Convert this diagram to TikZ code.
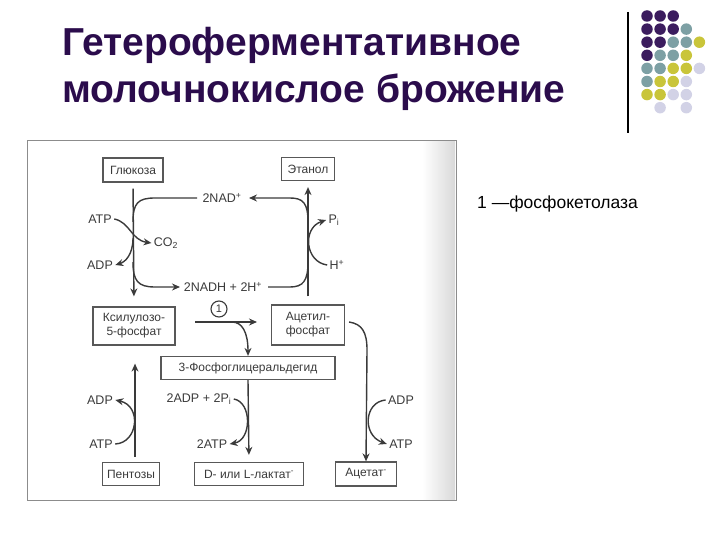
\documentclass[tikz,border=0pt]{standalone}
\usepackage{fontspec}
\setmainfont{Liberation Sans}
\usetikzlibrary{arrows.meta}
\definecolor{titlec}{HTML}{2B0C4C}
\definecolor{dpurple}{HTML}{3B1C5E}
\definecolor{dteal}{HTML}{7DA0A4}
\definecolor{dyellow}{HTML}{C9C53A}
\definecolor{dlav}{HTML}{D2D2E6}
\definecolor{ink}{HTML}{3A3A3A}
\tikzset{
  box/.style={draw=ink!85, line width=1.2pt, inner sep=1pt, text=ink, font=\fontsize{12}{14}\selectfont, align=center},
  lbl/.style={text=ink, font=\fontsize{12.5}{14}\selectfont, inner sep=0.5pt, outer sep=2pt},
  conn/.style={draw=ink, line width=1.4pt},
  arr/.style={conn, -{Stealth[length=8pt,width=7pt]}},
  dot/.style={circle, minimum size=11.5pt, inner sep=0pt, draw=none}
}
\begin{document}
\begin{tikzpicture}[x=1pt,y=-1pt]
\useasboundingbox (0,0) rectangle (720,540);
% title
\node[anchor=base west, inner sep=0pt, text=titlec, font=\fontsize{39}{44}\bfseries\selectfont] (t1) at (62,56) {Гетероферментативное};
\node[anchor=base west, inner sep=0pt, text=titlec, font=\fontsize{39}{44}\bfseries\selectfont] (t2) at (62,103) {молочнокислое брожение};
% decoration
\draw[line width=1.1pt] (628,12) -- (628,133);
\foreach \c/\x/\y in {dpurple/0/0,dpurple/1/0,dpurple/2/0,
  dpurple/0/1,dpurple/1/1,dpurple/2/1,dteal/3/1,
  dpurple/0/2,dpurple/1/2,dteal/2/2,dteal/3/2,dyellow/4/2,
  dpurple/0/3,dteal/1/3,dteal/2/3,dyellow/3/3,
  dteal/0/4,dteal/1/4,dyellow/2/4,dyellow/3/4,dlav/4/4,
  dteal/0/5,dyellow/1/5,dyellow/2/5,dlav/3/5,
  dyellow/0/6,dyellow/1/6,dlav/2/6,dlav/3/6,
  dlav/1/7,dlav/3/7}
  \node[dot, fill=\c] (d\x\y) at ({647+13.1*\x},{16+13.1*\y}) {};
% legend
\node[anchor=base west, inner sep=0pt, font=\fontsize{17.5}{20}\selectfont] (leg) at (477,209) {1 —фосфокетолаза};
% scanned frame
\shade[left color=white, right color=black!15] (422,141) rectangle (455,500);
\draw[black!45, line width=0.8pt] (27,140) rectangle (456,500);
% boxes
\node[box, minimum width=60pt, minimum height=24pt] (glu) at (133,170) {Глюкоза};
\node[box, minimum width=53pt, minimum height=23pt] (eth) at (308,169) {Этанол};
\node[box, minimum width=82pt, minimum height=38pt] (xyl) at (134,326) {Ксилулозо-\\5-фосфат};
\node[box, minimum width=73pt, minimum height=40pt] (acp) at (308,325) {Ацетил-\\фосфат};
\node[box, minimum width=174pt, minimum height=23pt] (pga) at (248,368) {3-Фосфоглицеральдегид};
\node[box, minimum width=57pt, minimum height=23pt] (pen) at (131,474) {Пентозы};
\node[box, minimum width=109pt, minimum height=23pt] (lac) at (249,474) {D- или L-лактат\textsuperscript{-}};
\node[box, minimum width=61pt, minimum height=24pt] (act) at (366,474) {Ацетат\textsuperscript{-}};
% labels
\node[lbl] (nad) at (222,198) {2NAD\textsuperscript{+}};
\node[lbl] (nadh) at (223,287) {2NADH + 2H\textsuperscript{+}};
\node[lbl] (atp1) at (100,219) {ATP};
\node[lbl] (co2) at (166,243) {CO\textsubscript{2}};
\node[lbl] (adp1) at (100,265) {ADP};
\node[lbl] (pi) at (334,220) {P\textsubscript{i}};
\node[lbl] (hp) at (337,265) {H\textsuperscript{+}};
\node[draw=ink, line width=1.1pt, circle, inner sep=0pt, minimum size=16pt, text=ink, font=\fontsize{11}{12}\selectfont] (one) at (219,309) {1};
\node[lbl] (adp2) at (100,400) {ADP};
\node[lbl] (atp2) at (101,444) {ATP};
\node[lbl] (adp3) at (199,399) {2ADP + 2P\textsubscript{i}};
\node[lbl] (atp3) at (212,444) {2ATP};
\node[lbl] (adp4) at (401,400) {ADP};
\node[lbl] (atp4) at (401,444) {ATP};
% coordinates
\coordinate (nadL) at (197,198);
\coordinate (nadR) at (249,198);
\coordinate (nadhL) at (180,287);
\coordinate (nadhR) at (268,287);
\coordinate (x1) at (195,322);
\coordinate (x2) at (257,322);
\coordinate (xb) at (232,322);
% main vertical lines
\draw[arr, shorten <=6pt, shorten >=10pt] (glu.south) -- (xyl.north);
\draw[arr, shorten <=8pt, shorten >=6pt] (acp.north) -- (eth.south);
% loop
\draw[conn] (133,222) .. controls (133,203) and (138,198) .. (155,198) -- (nadL);
\draw[arr] (308,222) .. controls (308,203) and (303,198) .. (290,198) -- (nadR);
\draw[arr] (133,262) .. controls (133,281) and (138,287) .. (155,287) -- (nadhL);
\draw[conn] (nadhR) -- (290,287) .. controls (303,287) and (308,281) .. (308,262);
% side arrows top left
\draw[arr] (atp1.east) .. controls (130,222) and (131,240) .. (co2.west);
\draw[arr] (133,238) .. controls (133,255) and (125,262) .. (adp1.east);
% right top
\draw[arr] (hp.west) .. controls (305,262) and (302,228) .. (pi.west);
% phosphoketolase
\draw[arr] (x1) -- (x2);
\draw[arr] (xb) .. controls (242,322) and (248,332) .. (pga.north -| 248,354);
% acetyl phosphate -> acetate
\draw[arr] (acp.east) ++(4,-3) .. controls (362,324) and (367,332) .. (367,350) -- (act.north);
\draw[arr] (adp4.west) .. controls (364,402) and (362,435) .. (atp4.west);
% pentoses -> xylulose
\draw[arr, shorten <=5pt, shorten >=18pt] (pen.north -| 135,462) -- (xyl.south -| 135,345);
\draw[arr] (atp2.east) .. controls (138,443) and (142,406) .. (adp2.east);
% pga -> lactate
\draw[arr, shorten >=7pt] (pga.south) -- (lac.north);
\draw[arr] (adp3.east) .. controls (252,402) and (252,440) .. (atp3.east);
\end{tikzpicture}
\end{document}
